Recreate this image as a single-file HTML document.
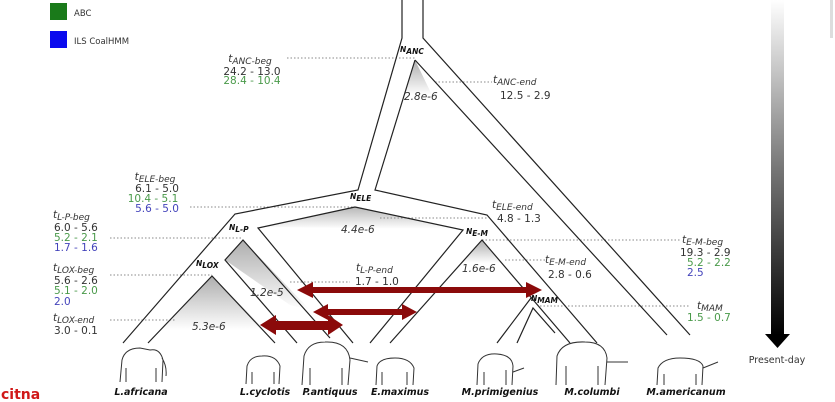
<!DOCTYPE html>
<html><head><meta charset="utf-8"><style>
html,body{margin:0;padding:0;background:#fff;}
svg{display:block;font-family:"DejaVu Sans","Liberation Sans",sans-serif;}
.t{font-size:10.5px;fill:#333;}
.i{font-style:italic;}
.g{fill:#4a9a4a;}
.b{fill:#4444bb;}
.n{font-size:7.5px;font-weight:bold;font-style:italic;fill:#111;}
.sp{font-size:9.5px;font-weight:bold;font-style:italic;fill:#111;}
.d{stroke:#888;stroke-width:1;stroke-dasharray:1.5 2;fill:none;}
.l{stroke:#222;stroke-width:1.2;fill:none;}
.e{fill:#fff;stroke:#333;stroke-width:1;}
</style></head><body>
<svg width="835" height="402" viewBox="0 0 835 402">
<defs>
<linearGradient id="gr" x1="0" y1="0" x2="0" y2="1"><stop offset="0" stop-color="#999"/><stop offset="1" stop-color="#fff"/></linearGradient>
<linearGradient id="bar" x1="0" y1="0" x2="0" y2="1"><stop offset="0" stop-color="#fff"/><stop offset="0.5" stop-color="#777"/><stop offset="1" stop-color="#000"/></linearGradient>
</defs>
<rect x="50" y="3" width="17" height="17" fill="#1a7a1a"/>
<rect x="50" y="31" width="17" height="17" fill="#0a0aee"/>
<text x="74" y="16" font-size="8.5" fill="#333">ABC</text>
<text x="74" y="44" font-size="8.5" fill="#333">ILS CoalHMM</text>
<rect x="830" y="0" width="3" height="38" fill="#ddd"/>
<polygon points="415,60 405,95 432,95" fill="url(#gr)" opacity="0.8"/>
<polygon points="355,207 263,227 460,229" fill="url(#gr)" opacity="0.7"/>
<polygon points="243,240 225,260 290,305 310,310" fill="url(#gr)" opacity="0.8"/>
<polygon points="212,276 160,330 265,330" fill="url(#gr)" opacity="0.8"/>
<polygon points="482,240 462,263 502,263" fill="url(#gr)" opacity="0.8"/>
<path class="d" d="M287 58H415 M435 82H492 M190 207H355 M380 218H487 M110 238H243 M482 240H680 M505 260H545 M110 275H212 M290 282H350 M540 306H690 M110 320H175"/>
<path class="l" d="M402 0V38L358 190L235 214L123 343
M423 0V38L690 335
M415 60L375 190L487 215L597 343
M415 60L667 335
M355 207L258 228L353 343
M355 207L463 230L370 343
M148 343L212 276L275 343
M297 343L225 260L243 240L330 338
M390 343L482 240L570 343
M497 343L531 298
M517 343L533 308L555 333"/>
<g fill="#8b0a0a">
<rect x="310" y="287" width="220" height="6"/>
<polygon points="297,290 313,282 313,298"/><polygon points="542,290 526,282 526,298"/>
<rect x="325" y="309" width="80" height="6"/>
<polygon points="313,312 328,304 328,320"/><polygon points="417,312 402,304 402,320"/>
<rect x="272" y="321" width="60" height="9"/>
<polygon points="260,325 276,315 276,335"/><polygon points="343,325 328,315 328,335"/>
</g>
<text class="t" text-anchor="middle"><tspan class="i" x="250" y="62">t<tspan font-size="9" dy="2">ANC-beg</tspan></tspan><tspan x="252" y="75">24.2 - 13.0</tspan><tspan class="g" x="252" y="84">28.4 - 10.4</tspan></text>
<text class="t" text-anchor="middle"><tspan class="i" x="155" y="180">t<tspan font-size="9" dy="2">ELE-beg</tspan></tspan><tspan x="157" y="192">6.1 - 5.0</tspan><tspan class="g" x="153" y="202">10.4 - 5.1</tspan><tspan class="b" x="157" y="212">5.6 - 5.0</tspan></text>
<text class="t"><tspan class="i" x="53" y="218">t<tspan font-size="9" dy="2">L-P-beg</tspan></tspan><tspan x="54" y="231">6.0 - 5.6</tspan><tspan class="g" x="54" y="241">5.2 - 2.1</tspan><tspan class="b" x="54" y="251">1.7 - 1.6</tspan></text>
<text class="t"><tspan class="i" x="53" y="271">t<tspan font-size="9" dy="2">LOX-beg</tspan></tspan><tspan x="54" y="284">5.6 - 2.6</tspan><tspan class="g" x="54" y="294">5.1 - 2.0</tspan><tspan class="b" x="54" y="305">2.0</tspan></text>
<text class="t"><tspan class="i" x="53" y="321">t<tspan font-size="9" dy="2">LOX-end</tspan></tspan><tspan x="54" y="334">3.0 - 0.1</tspan></text>
<text class="t"><tspan class="i" x="493" y="83">t<tspan font-size="9" dy="2">ANC-end</tspan></tspan><tspan x="500" y="99">12.5 - 2.9</tspan></text>
<text class="t i" x="404" y="100">2.8e-6</text>
<text class="t"><tspan class="i" x="492" y="208">t<tspan font-size="9" dy="2">ELE-end</tspan></tspan><tspan x="497" y="222">4.8 - 1.3</tspan></text>
<text class="t i" x="341" y="233">4.4e-6</text>
<text class="t i" x="462" y="272">1.6e-6</text>
<text class="t"><tspan class="i" x="545" y="263">t<tspan font-size="9" dy="2">E-M-end</tspan></tspan><tspan x="548" y="278">2.8 - 0.6</tspan></text>
<text class="t"><tspan class="i" x="356" y="271">t<tspan font-size="9" dy="2">L-P-end</tspan></tspan><tspan x="355" y="285">1.7 - 1.0</tspan></text>
<text class="t i" x="250" y="296">1.2e-5</text>
<text class="t i" x="192" y="330">5.3e-6</text>
<text class="t"><tspan class="i" x="682" y="243">t<tspan font-size="9" dy="2">E-M-beg</tspan></tspan><tspan x="680" y="256">19.3 - 2.9</tspan><tspan class="g" x="687" y="266">5.2 - 2.2</tspan><tspan class="b" x="687" y="276">2.5</tspan></text>
<text class="t"><tspan class="i" x="697" y="309">t<tspan font-size="9" dy="2">MAM</tspan></tspan><tspan class="g" x="687" y="321">1.5 - 0.7</tspan></text>
<text class="n" x="400" y="52">N<tspan dy="2">ANC</tspan></text>
<text class="n" x="350" y="199">N<tspan dy="2">ELE</tspan></text>
<text class="n" x="229" y="230">N<tspan dy="2">L-P</tspan></text>
<text class="n" x="196" y="266">N<tspan dy="2">LOX</tspan></text>
<text class="n" x="466" y="234">N<tspan dy="2">E-M</tspan></text>
<text class="n" x="531" y="301">N<tspan dy="2">MAM</tspan></text>
<g class="e">
<path d="M120 382L122 360Q125 348 140 348L150 350Q160 348 163 360L162 382M126 382V368M156 382V368M162 358Q167 366 166 376"/>
<path d="M246 384L247 366Q250 356 262 356Q276 355 280 366L279 384M252 384V372M274 384V372"/>
<path d="M302 385L304 356Q308 342 325 342Q348 341 350 360L348 385M310 385V368M342 385V368M350 358L368 362"/>
<path d="M376 385L377 366Q380 358 395 358Q410 358 414 368L413 385M382 385V372M407 385V372"/>
<path d="M477 385L478 364Q482 353 497 354Q512 355 513 366L512 385M484 385V372M506 385V370M513 372L524 368"/>
<path d="M556 385L557 356Q562 341 585 342Q605 342 607 358L605 385M566 385V366M598 385V366M607 362L628 362"/>
<path d="M657 385L658 368Q663 358 680 358Q700 358 703 366L702 385M664 385V374M696 385V374M703 368L718 362"/>
</g>
<text class="sp" text-anchor="middle"><tspan x="141" y="395">L.africana</tspan><tspan x="265" y="395">L.cyclotis</tspan><tspan x="330" y="395">P.antiquus</tspan><tspan x="400" y="395">E.maximus</tspan><tspan x="500" y="395">M.primigenius</tspan><tspan x="592" y="395">M.columbi</tspan><tspan x="686" y="395">M.americanum</tspan></text>
<rect x="771" y="0" width="13" height="336" fill="url(#bar)"/>
<polygon points="765,334 790,334 777.5,348" fill="#000"/>
<text x="777" y="363" font-size="9.5" fill="#333" text-anchor="middle">Present-day</text>
<text x="1" y="399" font-size="14" font-weight="bold" fill="#d01818">citna</text>
</svg>
</body></html>
